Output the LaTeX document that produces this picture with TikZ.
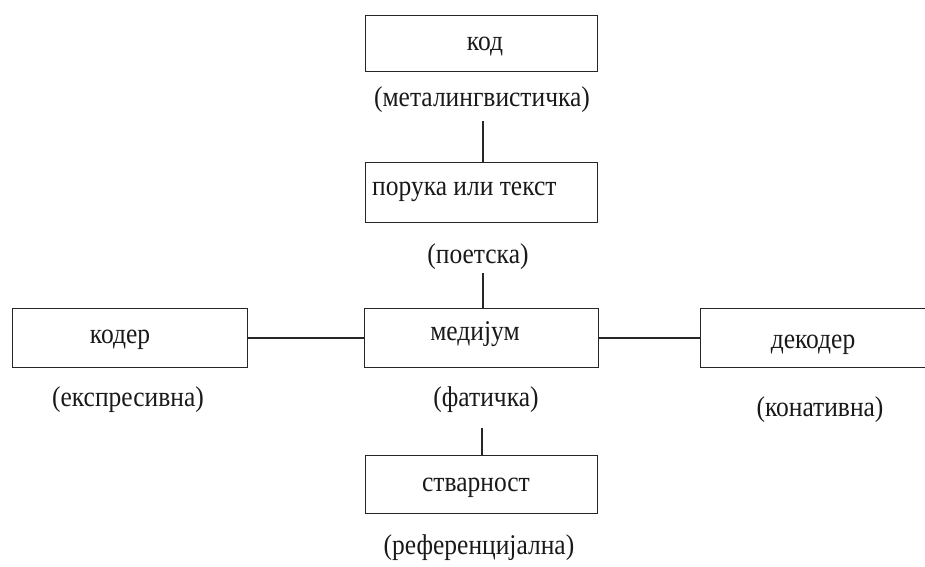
\documentclass[tikz,border=0pt]{standalone}
\usepackage{graphicx}
\usepackage{fontspec}
\setmainfont{Liberation Serif}
\newcommand{\tallt}[1]{\scalebox{1}[1.12]{#1}}
\begin{document}
\begin{tikzpicture}[x=1pt,y=-1pt,
  boxnode/.style={draw=black!85,line width=1.4pt,rectangle,inner sep=0pt,anchor=north west},
  txt/.style={font=\fontsize{25.5}{30}\selectfont,inner sep=0pt,text=black!90},
  conn/.style={draw=black!85,line width=1.4pt}]
\useasboundingbox (0,0) rectangle (925,566);
\begin{scope}
\clip (0,0) rectangle (925,566);
% boxes
\node[boxnode,minimum width=232pt,minimum height=56pt] (kod) at (365,15) {};
\node[boxnode,minimum width=232pt,minimum height=60pt] (poruka) at (365,162) {};
\node[boxnode,minimum width=235pt,minimum height=59pt] (koder) at (12,308) {};
\node[boxnode,minimum width=234pt,minimum height=59pt] (medium) at (364,308) {};
\node[boxnode,minimum width=240pt,minimum height=59pt] (dekoder) at (700,308) {};
\node[boxnode,minimum width=232pt,minimum height=58pt] (stvarnost) at (365,455) {};
\end{scope}
% texts
\node[txt] (tkod) at (485,47) {\tallt{код}};
\node[txt] (lmeta) at (482,100) {\tallt{(металингвистичка)}};
\node[txt,anchor=west] (tporuka) at (372,192) {\tallt{порука или текст}};
\node[txt] (lpoet) at (478,257) {\tallt{(поетска)}};
\node[txt] (tkoder) at (120,340) {\tallt{кодер}};
\node[txt] (tmedium) at (475,334) {\tallt{медијум}};
\node[txt] (tdekoder) at (813,345) {\tallt{декодер}};
\node[txt] (lekspr) at (128,400) {\tallt{(експресивна)}};
\node[txt] (lfat) at (486,400) {\tallt{(фатичка)}};
\node[txt] (lkonat) at (820,410) {\tallt{(конативна)}};
\node[txt] (tstvar) at (476,488) {\tallt{стварност}};
\node[txt] (lref) at (479,548) {\tallt{(референцијална)}};
% connector free ends
\coordinate (c1) at (483,121);
\coordinate (c2) at (483,273);
\coordinate (c3) at (482,428);
% connectors
\draw[conn] (c1) -- (c1 |- poruka.north);
\draw[conn] (c2) -- (c2 |- medium.north);
\draw[conn] (c3) -- (c3 |- stvarnost.north);
\draw[conn] (koder.east |- 0,338) -- (medium.west |- 0,338);
\draw[conn] (medium.east |- 0,338) -- (dekoder.west |- 0,338);
\end{tikzpicture}
\end{document}
